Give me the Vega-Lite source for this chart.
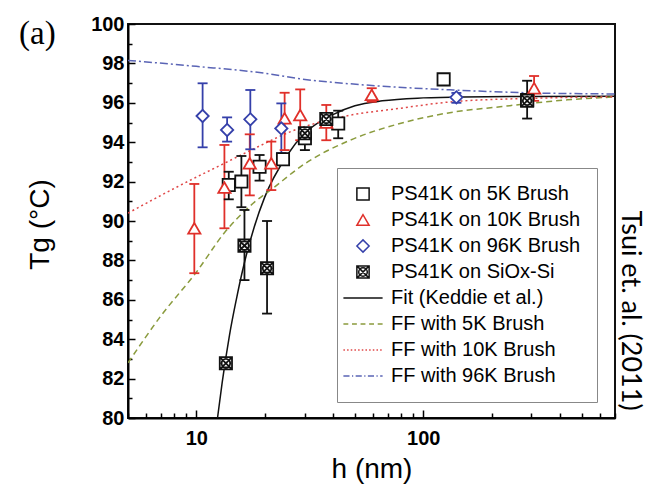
{
  "$schema": "https://vega.github.io/schema/vega-lite/v6.json",
  "width": 487,
  "height": 394,
  "autosize": {"type": "none"},
  "padding": {"left": 128, "top": 24, "right": 32, "bottom": 68},
  "background": "white",
  "title": {"text": "(a)", "anchor": "start", "frame": "group", "font": "Liberation Serif", "fontSize": 33, "fontWeight": "normal", "color": "#000", "dx": -109, "dy": 41},
  "datasets": {
    "pts": [
      {"series": "PS41K on 5K Brush", "h": 13.9, "tg": 91.83, "lo": 91.1, "hi": 92.5},
      {"series": "PS41K on 5K Brush", "h": 15.8, "tg": 92.0, "lo": 90.7, "hi": 93.3},
      {"series": "PS41K on 5K Brush", "h": 19.0, "tg": 92.75, "lo": 92.05, "hi": 93.35},
      {"series": "PS41K on 5K Brush", "h": 24.1, "tg": 93.13, "lo": null, "hi": null},
      {"series": "PS41K on 5K Brush", "h": 30.1, "tg": 94.2, "lo": 93.6, "hi": 94.7},
      {"series": "PS41K on 5K Brush", "h": 42.2, "tg": 94.95, "lo": 94.2, "hi": 95.6},
      {"series": "PS41K on 5K Brush", "h": 123, "tg": 97.19, "lo": 96.95, "hi": 97.4},
      {"series": "PS41K on 5K Brush", "h": 287, "tg": 96.14, "lo": 95.2, "hi": 97.12},
      {"series": "PS41K on 10K Brush", "h": 9.8, "tg": 89.63, "lo": 87.35, "hi": 91.88},
      {"series": "PS41K on 10K Brush", "h": 13.3, "tg": 91.7, "lo": 89.63, "hi": 93.86},
      {"series": "PS41K on 10K Brush", "h": 17.2, "tg": 92.93, "lo": 91.3, "hi": 94.4},
      {"series": "PS41K on 10K Brush", "h": 21.4, "tg": 92.93, "lo": 91.57, "hi": 94.03},
      {"series": "PS41K on 10K Brush", "h": 24.5, "tg": 95.21, "lo": 93.6, "hi": 96.51},
      {"series": "PS41K on 10K Brush", "h": 28.7, "tg": 95.38, "lo": 94.1, "hi": 96.68},
      {"series": "PS41K on 10K Brush", "h": 37.4, "tg": 95.0, "lo": 94.1, "hi": 95.89},
      {"series": "PS41K on 10K Brush", "h": 59.3, "tg": 96.4, "lo": 96.05, "hi": 96.74},
      {"series": "PS41K on 10K Brush", "h": 308, "tg": 96.74, "lo": 96.1, "hi": 97.36},
      {"series": "PS41K on 96K Brush", "h": 10.66, "tg": 95.33, "lo": 93.74, "hi": 96.99},
      {"series": "PS41K on 96K Brush", "h": 13.67, "tg": 94.62, "lo": 94.03, "hi": 95.26},
      {"series": "PS41K on 96K Brush", "h": 17.3, "tg": 95.16, "lo": 93.64, "hi": 96.65},
      {"series": "PS41K on 96K Brush", "h": 23.7, "tg": 94.7, "lo": 93.45, "hi": 95.97},
      {"series": "PS41K on 96K Brush", "h": 140, "tg": 96.28, "lo": 96.0, "hi": 96.5},
      {"series": "PS41K on SiOx-Si", "h": 13.5, "tg": 82.78, "lo": null, "hi": null},
      {"series": "PS41K on SiOx-Si", "h": 16.3, "tg": 88.75, "lo": 87.0, "hi": 90.56},
      {"series": "PS41K on SiOx-Si", "h": 20.5, "tg": 87.6, "lo": 85.3, "hi": 90.0},
      {"series": "PS41K on SiOx-Si", "h": 30.1, "tg": 94.45, "lo": null, "hi": null},
      {"series": "PS41K on SiOx-Si", "h": 37.4, "tg": 95.18, "lo": null, "hi": null},
      {"series": "PS41K on SiOx-Si", "h": 287, "tg": 96.1, "lo": null, "hi": null}
    ],
    "curves": [
      {"series": "Fit (Keddie et al.)", "h": 12.4, "tg": 80.0},
      {"series": "Fit (Keddie et al.)", "h": 13, "tg": 81.8},
      {"series": "Fit (Keddie et al.)", "h": 14, "tg": 84.2},
      {"series": "Fit (Keddie et al.)", "h": 15, "tg": 86.0},
      {"series": "Fit (Keddie et al.)", "h": 16, "tg": 87.5},
      {"series": "Fit (Keddie et al.)", "h": 18, "tg": 89.7},
      {"series": "Fit (Keddie et al.)", "h": 20, "tg": 91.2},
      {"series": "Fit (Keddie et al.)", "h": 25, "tg": 93.3},
      {"series": "Fit (Keddie et al.)", "h": 30, "tg": 94.45},
      {"series": "Fit (Keddie et al.)", "h": 40, "tg": 95.4},
      {"series": "Fit (Keddie et al.)", "h": 50, "tg": 95.85},
      {"series": "Fit (Keddie et al.)", "h": 66, "tg": 96.1},
      {"series": "Fit (Keddie et al.)", "h": 100, "tg": 96.25},
      {"series": "Fit (Keddie et al.)", "h": 150, "tg": 96.3},
      {"series": "Fit (Keddie et al.)", "h": 300, "tg": 96.32},
      {"series": "Fit (Keddie et al.)", "h": 700, "tg": 96.33},
      {"series": "FF with 5K Brush", "h": 5, "tg": 82.8},
      {"series": "FF with 5K Brush", "h": 7, "tg": 85.2},
      {"series": "FF with 5K Brush", "h": 10, "tg": 87.4},
      {"series": "FF with 5K Brush", "h": 13.3, "tg": 89.4},
      {"series": "FF with 5K Brush", "h": 17.8, "tg": 90.9},
      {"series": "FF with 5K Brush", "h": 21.4, "tg": 91.6},
      {"series": "FF with 5K Brush", "h": 30, "tg": 92.9},
      {"series": "FF with 5K Brush", "h": 47.6, "tg": 94.1},
      {"series": "FF with 5K Brush", "h": 79, "tg": 94.95},
      {"series": "FF with 5K Brush", "h": 131, "tg": 95.5},
      {"series": "FF with 5K Brush", "h": 218, "tg": 95.8},
      {"series": "FF with 5K Brush", "h": 432, "tg": 96.15},
      {"series": "FF with 5K Brush", "h": 700, "tg": 96.3},
      {"series": "FF with 10K Brush", "h": 5, "tg": 90.4},
      {"series": "FF with 10K Brush", "h": 8.26, "tg": 91.74},
      {"series": "FF with 10K Brush", "h": 13.3, "tg": 92.93},
      {"series": "FF with 10K Brush", "h": 18.7, "tg": 93.77},
      {"series": "FF with 10K Brush", "h": 26.2, "tg": 94.55},
      {"series": "FF with 10K Brush", "h": 44.4, "tg": 95.3},
      {"series": "FF with 10K Brush", "h": 79, "tg": 95.72},
      {"series": "FF with 10K Brush", "h": 136, "tg": 96.06},
      {"series": "FF with 10K Brush", "h": 309, "tg": 96.23},
      {"series": "FF with 10K Brush", "h": 700, "tg": 96.31},
      {"series": "FF with 96K Brush", "h": 5, "tg": 98.15},
      {"series": "FF with 96K Brush", "h": 10, "tg": 97.85},
      {"series": "FF with 96K Brush", "h": 20, "tg": 97.5},
      {"series": "FF with 96K Brush", "h": 28.6, "tg": 97.22},
      {"series": "FF with 96K Brush", "h": 56, "tg": 96.9},
      {"series": "FF with 96K Brush", "h": 136, "tg": 96.65},
      {"series": "FF with 96K Brush", "h": 309, "tg": 96.5},
      {"series": "FF with 96K Brush", "h": 700, "tg": 96.45}
    ]
  },
  "encoding": {
    "x": {
      "field": "h", "type": "quantitative",
      "scale": {"type": "log", "domain": [5, 700]},
      "axis": {
        "title": "h (nm)",
        "values": [5, 6, 7, 8, 9, 10, 20, 30, 40, 50, 60, 70, 80, 90, 100, 200, 300, 400, 500, 600, 700],
        "format": "d",
        "labelExpr": "datum.value == 10 || datum.value == 100 ? datum.label : ''",
        "labelOverlap": false,
        "labelBound": false,
        "labelFlush": false,
        "labelFont": "Liberation Sans", "labelFontSize": 20, "labelFontWeight": "bold", "labelColor": "#000",
        "labelPadding": 18,
        "tickSize": {"condition": {"test": "datum.value == 10 || datum.value == 100", "value": -8}, "value": -5},
        "tickWidth": 1.5, "tickColor": "#000",
        "domainWidth": 2, "domainColor": "#000",
        "grid": false,
        "titleFont": "Liberation Sans", "titleFontSize": 28, "titleFontWeight": "normal", "titleColor": "#000",
        "titlePadding": 4
      }
    }
  },
  "layer": [
    {
      "data": {"name": "curves"},
      "transform": [{"filter": "datum.series == 'Fit (Keddie et al.)'"}],
      "mark": {"type": "line", "strokeWidth": 1.5, "interpolate": "monotone", "clip": true},
      "encoding": {
        "y": {
          "field": "tg", "type": "quantitative", "scale": {"domain": [80, 100]},
          "axis": {"orient": "right", "title": "Tsui et. al. (2011)", "labels": false, "ticks": false, "domain": false, "grid": false,
                   "titleAngle": 90, "titleFont": "Lato", "titleFontSize": 27, "titleFontWeight": "normal", "titleColor": "#000",
                   "titleX": 14, "titleY": 286, "titleAlign": "center", "titleBaseline": "middle"}
        },
        "stroke": {"field": "series", "type": "nominal",
          "scale": {"domain": ["FF with 96K Brush", "FF with 10K Brush", "FF with 5K Brush", "Fit (Keddie et al.)", "PS41K on SiOx-Si", "PS41K on 96K Brush", "PS41K on 10K Brush", "PS41K on 5K Brush"],
                    "range": ["#5a64b5", "#e04848", "#8a9b3d", "#111111", "#111111", "#3540aa", "#e0302a", "#111111"]},
          "legend": null}
      }
    },
    {
      "data": {"name": "curves"},
      "transform": [{"filter": "datum.series == 'FF with 5K Brush'"}],
      "mark": {"type": "line", "strokeWidth": 1.5, "strokeDash": [6, 4], "interpolate": "monotone", "clip": true},
      "encoding": {
        "y": {"field": "tg", "type": "quantitative", "scale": {"domain": [80, 100]}, "axis": null},
        "stroke": {"field": "series", "type": "nominal", "legend": null}
      }
    },
    {
      "data": {"name": "curves"},
      "transform": [{"filter": "datum.series == 'FF with 10K Brush'"}],
      "mark": {"type": "line", "strokeWidth": 1.5, "strokeDash": [2, 3], "interpolate": "monotone", "clip": true},
      "encoding": {
        "y": {"field": "tg", "type": "quantitative", "scale": {"domain": [80, 100]}, "axis": null},
        "stroke": {"field": "series", "type": "nominal", "legend": null}
      }
    },
    {
      "data": {"name": "curves"},
      "transform": [{"filter": "datum.series == 'FF with 96K Brush'"}],
      "mark": {"type": "line", "strokeWidth": 1.5, "strokeDash": [8, 3, 2, 3], "interpolate": "monotone", "clip": true},
      "encoding": {
        "y": {"field": "tg", "type": "quantitative", "scale": {"domain": [80, 100]}, "axis": null},
        "stroke": {"field": "series", "type": "nominal", "legend": null}
      }
    },
    {
      "data": {"name": "pts"},
      "transform": [{"filter": "datum.lo != null"}],
      "mark": {"type": "rule", "strokeWidth": 1.8},
      "encoding": {
        "y": {"field": "lo", "type": "quantitative", "scale": {"domain": [80, 100]}, "axis": null},
        "y2": {"field": "hi"},
        "stroke": {"field": "series", "type": "nominal", "legend": null}
      }
    },
    {
      "data": {"name": "pts"},
      "transform": [{"filter": "datum.lo != null"}],
      "mark": {"type": "tick", "orient": "horizontal", "size": 10, "thickness": 1.8, "opacity": 1},
      "encoding": {
        "y": {"field": "lo", "type": "quantitative", "scale": {"domain": [80, 100]}, "axis": null},
        "fill": {"field": "series", "type": "nominal",
          "scale": {"domain": ["PS41K on 5K Brush", "PS41K on 10K Brush", "PS41K on 96K Brush", "PS41K on SiOx-Si"],
                    "range": ["#111111", "#e0302a", "#3540aa", "#111111"]},
          "legend": null}
      }
    },
    {
      "data": {"name": "pts"},
      "transform": [{"filter": "datum.lo != null"}],
      "mark": {"type": "tick", "orient": "horizontal", "size": 10, "thickness": 1.8, "opacity": 1},
      "encoding": {
        "y": {"field": "hi", "type": "quantitative", "scale": {"domain": [80, 100]}, "axis": null},
        "fill": {"field": "series", "type": "nominal", "legend": null}
      }
    },
    {
      "data": {"name": "pts"},
      "mark": {"type": "point", "filled": false, "fill": "white", "fillOpacity": 1, "strokeWidth": 1.8, "opacity": 1, "size": 150},
      "encoding": {
        "y": {
          "field": "tg", "type": "quantitative", "scale": {"domain": [80, 100]},
          "axis": {
            "orient": "left",
            "title": "Tg (°C)",
            "values": [80, 81, 82, 83, 84, 85, 86, 87, 88, 89, 90, 91, 92, 93, 94, 95, 96, 97, 98, 99, 100],
            "labelExpr": "datum.value % 2 == 0 ? datum.label : ''",
            "labelOverlap": false, "labelBound": false, "labelFlush": false,
            "labelFont": "Liberation Sans", "labelFontSize": 20, "labelFontWeight": "bold", "labelColor": "#000",
            "labelPadding": 11,
            "tickSize": {"condition": {"test": "datum.value % 2 == 0", "value": -7}, "value": -4},
            "tickWidth": 1.5, "tickColor": "#000",
            "domainWidth": 2, "domainColor": "#000",
            "grid": false,
            "titleFont": "Liberation Sans", "titleFontSize": 28, "titleFontWeight": "normal", "titleColor": "#000",
            "titleX": -88, "titleY": 200, "titleAlign": "center", "titleBaseline": "middle", "titleAngle": -90
          }
        },
        "color": {"field": "series", "type": "nominal",
          "scale": {"domain": ["PS41K on 5K Brush", "PS41K on 10K Brush", "PS41K on 96K Brush", "PS41K on SiOx-Si", "Fit (Keddie et al.)", "FF with 5K Brush", "FF with 10K Brush", "FF with 96K Brush"],
                    "range": ["#111111", "#e0302a", "#3540aa", "#111111", "#111111", "#8a9b3d", "#e04848", "#5a64b5"]},
          "legend": {"title": null, "orient": "none", "legendX": 209, "legendY": 144}},
        "shape": {"field": "series", "type": "nominal",
          "scale": {"domain": ["PS41K on 5K Brush", "PS41K on 10K Brush", "PS41K on 96K Brush", "PS41K on SiOx-Si", "Fit (Keddie et al.)", "FF with 5K Brush", "FF with 10K Brush", "FF with 96K Brush"],
                    "range": ["square", "triangle-up", "diamond",
                              "M-1,-1H1V1H-1Z M-1,-1L1,1 M-1,1L1,-1 M0.7,0A0.7,0.7 0 1 1 -0.7,0A0.7,0.7 0 1 1 0.7,0",
                              "M-3.2,0H3.2",
                              "M-3.2,0H-2.4M-1.8,0H-1M-0.4,0H0.4M1,0H1.8M2.4,0H3.2",
                              "M-3.2,0H-2.95M-2.6,0H-2.35M-2,0H-1.75M-1.4,0H-1.15M-0.8,0H-0.55M-0.2,0H0.05M0.4,0H0.65M1,0H1.25M1.6,0H1.85M2.2,0H2.45M2.8,0H3.05",
                              "M-3.2,0H-2.2M-1.8,0H-1.6M-1.2,0H-0.2M0.2,0H0.4M0.8,0H1.8M2.2,0H2.4M2.8,0H3.2"]},
          "legend": {"title": null, "orient": "none", "legendX": 209, "legendY": 144}}
      }
    }
  ],
  "resolve": {"axis": {"y": "independent"}},
  "config": {
    "view": {"stroke": "#111", "strokeWidth": 2},
    "legend": {
      "labelFont": "Liberation Sans", "labelFontSize": 20, "labelColor": "#000",
      "symbolSize": 150, "symbolStrokeWidth": 1.5,
      "rowPadding": 6, "padding": 16, "labelOffset": 18,
      "strokeColor": "#888", "fillColor": "white", "labelLimit": 300
    }
  }
}
